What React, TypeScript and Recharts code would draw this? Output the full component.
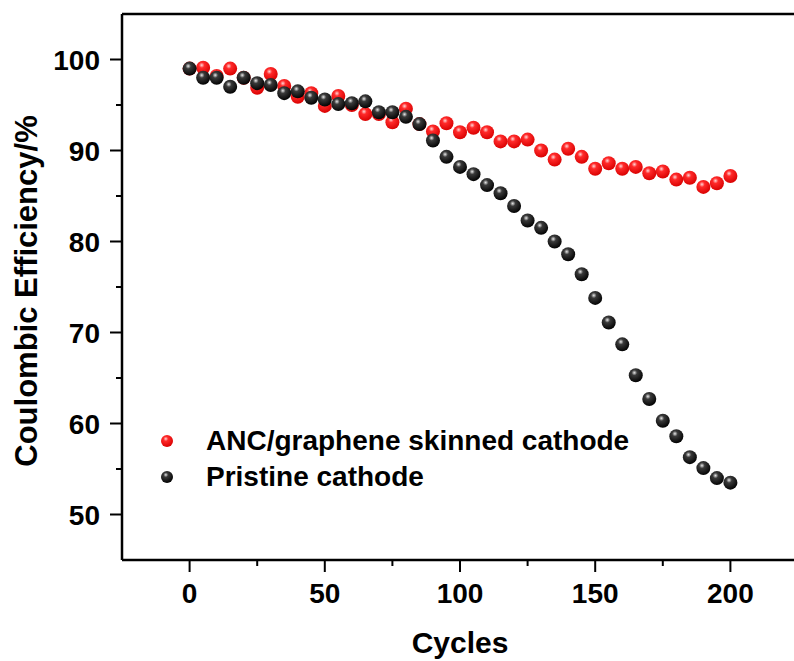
import React from "react";
import { ScatterChart, Scatter, XAxis, YAxis, ReferenceLine } from "recharts";

const cycles = [
  0, 5, 10, 15, 20, 25, 30, 35, 40, 45, 50, 55, 60, 65, 70, 75, 80, 85, 90, 95,
  100, 105, 110, 115, 120, 125, 130, 135, 140, 145, 150, 155, 160, 165, 170,
  175, 180, 185, 190, 195, 200,
];

const ancGraphene = [
  99.0, 99.1, 98.2, 99.0, 98.0, 96.9, 98.4, 97.1, 95.9, 96.3, 94.9, 96.0, 95.0,
  94.0, 94.0, 93.1, 94.6, 92.9, 92.1, 93.0, 92.0, 92.5, 92.0, 91.0, 91.0, 91.2,
  90.0, 89.0, 90.2, 89.3, 88.0, 88.6, 88.0, 88.2, 87.5, 87.7, 86.8, 87.0, 86.0,
  86.4, 87.2,
];

const pristine = [
  99.0, 98.0, 98.0, 97.0, 98.0, 97.4, 97.2, 96.3, 96.5, 95.8, 95.6, 95.1, 95.2,
  95.4, 94.2, 94.2, 93.7, 92.9, 91.1, 89.3, 88.2, 87.4, 86.2, 85.3, 83.9, 82.3,
  81.5, 80.0, 78.6, 76.4, 73.8, 71.1, 68.7, 65.3, 62.7, 60.3, 58.6, 56.3, 55.1,
  54.0, 53.5,
];

const xTicks = [0, 25, 50, 75, 100, 125, 150, 175, 200];
const yTicks = [50, 55, 60, 65, 70, 75, 80, 85, 90, 95, 100];

const seriesNames = ["ANC/graphene skinned cathode", "Pristine cathode"];

const FONT = '"Liberation Sans", Arial, sans-serif';
const TICK_SIZE = 12;
const TICK_GAP = 10;

const toPoints = (ys: number[]) => cycles.map((x, i) => ({ x, y: ys[i] }));

const palettes = {
  red: { hi: "#ffd6d6", mid: "#ff2a2a", lo: "#d80000" },
  black: { hi: "#e8e8e8", mid: "#3a3a3a", lo: "#000000" },
};

function Ball({ cx, cy, r = 7, tone }: any) {
  const p = palettes[tone as "red" | "black"];
  const id = `ball-${tone}`;
  return (
    <g>
      <defs>
        <radialGradient id={id} cx="40%" cy="32%" r="70%">
          <stop offset="0%" stopColor={p.hi} />
          <stop offset="28%" stopColor={p.mid} />
          <stop offset="100%" stopColor={p.lo} />
        </radialGradient>
      </defs>
      <circle cx={cx} cy={cy} r={r} fill={`url(#${id})`} />
    </g>
  );
}

function YTick({ x, y, payload }: any) {
  const axisX = x + TICK_SIZE + TICK_GAP;
  const major = payload.value % 10 === 0;
  return (
    <g>
      <line
        x1={axisX}
        x2={axisX - (major ? 12 : 6)}
        y1={y}
        y2={y}
        stroke="#000"
        strokeWidth={2}
      />
      {major && (
        <text
          x={x}
          y={y + 10}
          textAnchor="end"
          fontFamily={FONT}
          fontWeight="bold"
          fontSize={28}
          fill="#000"
        >
          {payload.value}
        </text>
      )}
    </g>
  );
}

function XTick({ x, y, payload }: any) {
  const axisY = y - TICK_SIZE - TICK_GAP;
  const major = payload.value % 50 === 0;
  return (
    <g>
      <line
        x1={x}
        x2={x}
        y1={axisY}
        y2={axisY + (major ? 12 : 6)}
        stroke="#000"
        strokeWidth={2}
      />
      {major && (
        <text
          x={x}
          y={y + 21}
          textAnchor="middle"
          fontFamily={FONT}
          fontWeight="bold"
          fontSize={28}
          fill="#000"
        >
          {payload.value}
        </text>
      )}
    </g>
  );
}

function YTitle({ viewBox }: any) {
  const cx = viewBox.x + 26;
  const cy = viewBox.y + viewBox.height / 2 + 4;
  return (
    <text
      x={cx}
      y={cy}
      transform={`rotate(-90 ${cx} ${cy})`}
      textAnchor="middle"
      dominantBaseline="central"
      fontFamily={FONT}
      fontWeight="bold"
      fontSize={31}
      fill="#000"
    >
      Coulombic Efficiency/%
    </text>
  );
}

function LegendBox() {
  const tones = ["red", "black"];
  return (
    <div
      style={{
        position: "absolute",
        left: 152,
        top: 423,
        fontFamily: FONT,
        fontWeight: "bold",
        fontSize: 28,
        lineHeight: "36px",
      }}
    >
      {seriesNames.map((name, i) => (
        <div
          key={name}
          style={{ display: "flex", alignItems: "center", height: 36 }}
        >
          <svg width={30} height={30} style={{ marginRight: 24 }}>
            <Ball cx={15} cy={15} r={6} tone={tones[i]} />
          </svg>
          <span>{name}</span>
        </div>
      ))}
    </div>
  );
}

export default function App() {
  return (
    <div
      style={{
        position: "absolute",
        left: 0,
        top: 0,
        width: 794,
        height: 661,
        overflow: "hidden",
        background: "#fff",
      }}
    >
      <ScatterChart
        width={800}
        height={661}
        margin={{ top: 14, right: 2, left: 0, bottom: 0 }}
      >
        <XAxis
          type="number"
          dataKey="x"
          domain={[-25, 225]}
          ticks={xTicks}
          interval={0}
          height={101}
          tickSize={TICK_SIZE}
          tickMargin={TICK_GAP}
          tickLine={false}
          axisLine={{ stroke: "#000", strokeWidth: 2.5 }}
          tick={<XTick />}
          label={{
            value: "Cycles",
            position: "insideBottom",
            offset: 8,
            fontFamily: FONT,
            fontWeight: "bold",
            fontSize: 30,
            fill: "#000",
          }}
        />
        <YAxis
          type="number"
          dataKey="y"
          domain={[45, 105]}
          ticks={yTicks}
          interval={0}
          width={122}
          tickSize={TICK_SIZE}
          tickMargin={TICK_GAP}
          tickLine={false}
          axisLine={{ stroke: "#000", strokeWidth: 2.5 }}
          tick={<YTick />}
          label={<YTitle />}
        />
        <ReferenceLine y={105} stroke="#000" strokeWidth={2.5} />
        <Scatter
          name={seriesNames[0]}
          data={toPoints(ancGraphene)}
          isAnimationActive={false}
          shape={(p: any) => <Ball cx={p.cx} cy={p.cy} tone="red" />}
        />
        <Scatter
          name={seriesNames[1]}
          data={toPoints(pristine)}
          isAnimationActive={false}
          shape={(p: any) => <Ball cx={p.cx} cy={p.cy} tone="black" />}
        />
      </ScatterChart>
      <LegendBox />
    </div>
  );
}
